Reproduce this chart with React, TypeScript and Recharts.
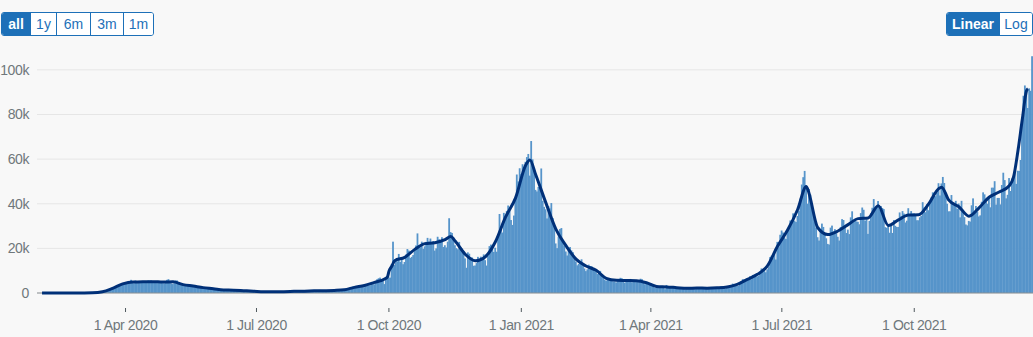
import React from 'react';
import { ComposedChart, Bar, Line, XAxis, YAxis, CartesianGrid, ReferenceLine } from 'recharts';

// Daily cases (thousands), by month, starting 31 Jan 2020
const jan2020 = [0];
const feb2020 = [0, 0, 0, 0, 0, 0, 0, 0, 0, 0, 0, 0, 0, 0, 0, 0, 0, 0, 0, 0, 0, 0, 0, 0, 0, 0, 0, 0, 0];
const mar2020 = [0, 0.01, 0.01, 0.03, 0.05, 0.05, 0.05, 0.07, 0.05, 0.07, 0.08, 0.13, 0.2, 0.3, 0.4, 0.5, 0.6, 0.8, 1.0, 1.2, 1.6, 1.6, 2.0, 2.4, 2.8, 3.2, 3.6, 3.8, 3.7, 3.9, 4.2];
const apr2020 = [4.6, 4.7, 5.0, 4.4, 5.9, 4.6, 4.3, 5.6, 4.9, 5.3, 5.3, 5.2, 4.6, 4.8, 4.9, 4.9, 5.6, 5.5, 5.6, 4.8, 4.6, 4.8, 4.7, 5.4, 5.0, 4.6, 4.4, 4.3, 4.6, 5.9];
const may2020 = [6.2, 4.8, 4.3, 4.0, 4.4, 5.6, 5.6, 4.6, 3.9, 3.9, 3.9, 3.4, 3.2, 3.4, 3.6, 3.45, 3.1, 3.5, 2.7, 2.5, 2.9, 3.0, 2.9, 2.5, 2.2, 2.0, 2.2, 2.1, 2.2, 2.4, 1.9];
const jun2020 = [1.6, 1.6, 1.9, 1.8, 1.65, 1.55, 1.3, 1.2, 1.4, 1.0, 1.3, 1.5, 1.4, 1.3, 1.1, 1.3, 1.1, 1.2, 1.35, 1.2, 1.2, 0.96, 0.87, 0.65, 1.1, 1.0, 0.9, 0.9, 0.8, 0.69];
const jul2020 = [0.6, 0.8, 0.6, 0.6, 0.5, 0.35, 0.6, 0.6, 0.6, 0.6, 0.8, 0.65, 0.5, 0.5, 0.5, 0.6, 0.7, 0.8, 0.6, 0.5, 0.4, 0.6, 0.7, 0.8, 0.7, 0.7, 0.7, 0.6, 0.8, 0.8, 0.9];
const aug2020 = [0.9, 0.7, 0.7, 0.7, 0.9, 1.0, 0.9, 0.8, 1.1, 0.9, 1.1, 1.0, 0.9, 1.4, 1.0, 1.0, 0.7, 1.2, 0.8, 1.2, 1.0, 1.3, 1.0, 0.9, 1.2, 1.2, 1.5, 1.3, 1.1, 1.7, 1.3];
const sep2020 = [1.3, 1.6, 1.7, 2.0, 1.8, 2.9, 2.9, 2.5, 2.7, 2.9, 3.5, 3.5, 3.3, 2.6, 3.1, 3.9, 3.4, 3.4, 4.4, 3.9, 3.9, 4.9, 6.2, 6.6, 6.9, 6.0, 5.7, 4.0, 7.1, 7.1];
const oct2020 = [6.9, 6.9, 12.9, 23.0, 12.6, 14.5, 14.2, 17.5, 13.9, 15.2, 12.9, 13.9, 17.2, 19.7, 19.0, 15.7, 16.2, 17.0, 18.8, 21.3, 26.7, 21.2, 20.5, 23.0, 19.8, 20.9, 22.9, 24.7, 23.1, 24.4, 21.9];
const nov2020 = [23.3, 19.0, 20.0, 25.2, 24.1, 23.3, 25.0, 20.6, 21.4, 20.4, 23.0, 33.5, 27.3, 26.9, 25.0, 21.4, 20.1, 19.6, 22.9, 20.3, 19.9, 18.7, 15.5, 11.3, 18.2, 17.6, 16.0, 15.9, 12.2, 12.3];
const dec2020 = [13.4, 16.2, 14.9, 16.3, 15.5, 17.3, 14.7, 12.3, 16.6, 21.0, 21.7, 21.5, 18.4, 20.3, 18.5, 25.2, 35.4, 28.5, 27.1, 35.9, 33.4, 36.8, 39.2, 36.8, 32.7, 30.5, 34.7, 41.4, 53.1, 50.0, 55.9];
const jan2021 = [53.3, 57.7, 55.0, 58.8, 60.9, 62.3, 52.6, 68.1, 59.9, 54.9, 46.2, 45.5, 47.5, 48.7, 55.8, 41.3, 38.6, 37.5, 33.4, 38.9, 37.9, 40.3, 33.6, 30.0, 22.2, 20.1, 25.3, 28.7, 29.1, 23.3, 21.1];
const feb2021 = [18.6, 16.8, 19.2, 20.6, 19.1, 18.3, 15.8, 14.1, 12.4, 13.0, 13.5, 15.1, 13.3, 11.0, 9.8, 10.6, 12.7, 12.1, 12.0, 10.4, 9.8, 10.6, 8.5, 9.9, 9.9, 8.5, 7.4, 6.0];
const mar2021 = [5.5, 6.4, 5.8, 6.6, 6.0, 5.2, 5.2, 4.7, 5.8, 6.3, 6.8, 6.6, 5.5, 4.6, 5.1, 5.3, 5.8, 6.3, 4.8, 5.6, 5.3, 5.3, 5.4, 5.6, 6.4, 6.2, 4.7, 3.9, 4.7, 4.0, 4.0];
const apr2021 = [4.5, 3.4, 3.4, 2.3, 2.8, 2.4, 3.0, 3.1, 3.0, 3.1, 1.7, 3.6, 2.5, 2.5, 2.7, 2.6, 2.3, 1.9, 2.5, 2.4, 2.4, 2.7, 2.5, 2.0, 1.7, 2.1, 2.0, 2.2, 2.1, 2.0];
const may2021 = [2.3, 1.7, 1.9, 2.5, 2.6, 2.5, 2.0, 2.0, 1.8, 2.4, 2.0, 2.3, 2.7, 2.2, 2.0, 1.9, 2.0, 2.4, 2.7, 2.9, 2.8, 2.2, 2.0, 2.4, 2.5, 3.2, 3.5, 4.2, 3.4, 3.2, 3.2];
const jun2021 = [3.2, 4.3, 5.3, 6.2, 5.8, 5.3, 5.7, 6.0, 7.5, 6.2, 8.1, 7.7, 7.5, 7.4, 7.7, 9.1, 11.0, 10.5, 10.3, 9.3, 10.6, 11.6, 16.1, 16.7, 15.8, 18.3, 15.0, 22.9, 20.5, 26.1];
const jul2021 = [28.0, 27.1, 24.9, 24.2, 27.3, 28.8, 32.5, 32.6, 35.7, 32.4, 31.8, 34.5, 36.7, 42.3, 48.6, 51.9, 54.7, 48.2, 40.0, 46.6, 44.1, 39.9, 36.4, 31.8, 29.2, 25.0, 23.5, 27.7, 31.1, 29.6, 26.1];
const aug2021 = [24.5, 22.0, 21.7, 29.3, 30.2, 27.7, 28.6, 26.8, 25.2, 23.5, 29.6, 33.1, 32.7, 29.5, 26.9, 28.4, 26.4, 33.9, 36.6, 32.1, 32.3, 32.1, 31.9, 30.8, 35.8, 38.3, 37.3, 32.4, 33.0, 26.5, 32.3];
const sep2021 = [35.7, 38.2, 42.1, 37.6, 38.2, 41.2, 37.5, 39.0, 38.1, 37.6, 29.5, 29.2, 30.8, 27.0, 30.6, 26.9, 32.7, 30.1, 29.6, 29.6, 36.1, 34.5, 36.7, 35.6, 31.6, 32.4, 38.0, 34.5, 36.7, 35.6];
const oct2021 = [35.7, 35.1, 32.6, 32.6, 33.9, 34.5, 40.7, 38.3, 36.2, 39.8, 37.1, 40.2, 42.8, 45.1, 44.9, 43.4, 45.1, 49.2, 43.7, 49.1, 52.0, 49.3, 45.0, 40.0, 36.6, 36.6, 43.9, 39.8, 39.1, 41.3, 37.7];
const nov2021 = [40.1, 33.9, 41.3, 37.3, 34.0, 30.7, 30.3, 32.3, 32.0, 39.3, 42.4, 36.5, 39.0, 36.5, 34.3, 34.8, 40.9, 45.1, 44.2, 40.9, 40.0, 42.5, 38.4, 47.2, 47.2, 50.1, 39.6, 42.6, 42.6, 39.7];
const dec2021 = [48.4, 53.9, 50.6, 42.4, 44.0, 51.5, 45.7, 51.3, 50.9, 54.1, 48.9, 54.8, 54.7, 59.6, 78.6, 88.4, 93.0, 90.4, 82.9, 91.7, 90.6, 106.1];

const dailyCasesK = [
  ...jan2020, ...feb2020, ...mar2020, ...apr2020, ...may2020, ...jun2020,
  ...jul2020, ...aug2020, ...sep2020, ...oct2020, ...nov2020, ...dec2020,
  ...jan2021, ...feb2021, ...mar2021, ...apr2021, ...may2021, ...jun2021,
  ...jul2021, ...aug2021, ...sep2021, ...oct2021, ...nov2021, ...dec2021,
];

// 7-day average line (thousands), read at sample dates
const avgDates = [
  '2020-02-03', '2020-02-10', '2020-02-17', '2020-02-24', '2020-03-02', '2020-03-09', '2020-03-16', '2020-03-23', '2020-03-30',
  '2020-04-06', '2020-04-13', '2020-04-20', '2020-04-27', '2020-05-04', '2020-05-11', '2020-05-18', '2020-05-25',
  '2020-06-01', '2020-06-08', '2020-06-15', '2020-06-22', '2020-06-29', '2020-07-06', '2020-07-13', '2020-07-20', '2020-07-27',
  '2020-08-03', '2020-08-10', '2020-08-17', '2020-08-24', '2020-08-31', '2020-09-07', '2020-09-14', '2020-09-21', '2020-09-28',
  '2020-09-30', '2020-10-01', '2020-10-03', '2020-10-05', '2020-10-12', '2020-10-19', '2020-10-26',
  '2020-11-02', '2020-11-09', '2020-11-13', '2020-11-16', '2020-11-23', '2020-11-30',
  '2020-12-07', '2020-12-14', '2020-12-21', '2020-12-28', '2021-01-04', '2021-01-07', '2021-01-11', '2021-01-18', '2021-01-25',
  '2021-02-01', '2021-02-08', '2021-02-15', '2021-02-22', '2021-03-01', '2021-03-08', '2021-03-15', '2021-03-22', '2021-03-29',
  '2021-04-05', '2021-04-12', '2021-04-19', '2021-04-26', '2021-05-03', '2021-05-10', '2021-05-17', '2021-05-24', '2021-05-31',
  '2021-06-07', '2021-06-14', '2021-06-21', '2021-06-28', '2021-07-05', '2021-07-12', '2021-07-18', '2021-07-19', '2021-07-26',
  '2021-08-02', '2021-08-09', '2021-08-16', '2021-08-23', '2021-08-30', '2021-09-06', '2021-09-13', '2021-09-20', '2021-09-27',
  '2021-10-04', '2021-10-11', '2021-10-18', '2021-10-20', '2021-10-25', '2021-11-01', '2021-11-08', '2021-11-15', '2021-11-22',
  '2021-11-29', '2021-12-06', '2021-12-09', '2021-12-12', '2021-12-15', '2021-12-18', '2021-12-19',
];
const avgValuesK = [
  0, 0, 0, 0, 0.02, 0.07, 0.54, 2.11, 4.07,
  4.96, 5.0, 5.09, 4.89, 4.99, 3.76, 3.11, 2.41,
  1.91, 1.34, 1.27, 1.05, 0.81, 0.55, 0.59, 0.61, 0.73,
  0.83, 0.96, 1.04, 1.16, 1.43, 2.53, 3.33, 4.76, 6.24,
  7.2, 9.7, 12.0, 14.5, 15.97, 19.55, 22.13,
  22.55, 23.87, 25.3, 23.3, 17.35, 14.41,
  16.24, 22.99, 33.96, 42.61, 57.23, 59.64, 52.96, 40.49, 28.6,
  21.24, 15.17, 12.09, 10.16, 6.6, 5.71, 5.6, 5.49, 4.57,
  2.91, 2.73, 2.4, 2.09, 2.21, 2.17, 2.3, 2.66, 3.83,
  6.1, 8.36, 12.16, 20.94, 28.2, 37.43, 47.7, 46.48, 29.24,
  26.19, 27.78, 30.63, 33.33, 33.63, 39.1, 30.23, 32.76, 34.9,
  35.01, 39.93, 46.77, 47.4, 41.59, 38.67, 34.43, 38.16, 42.91,
  45.27, 48.06, 52.0, 63.5, 77.5, 90.6, 91.5,
];

const tickDates = ['2020-04-01', '2020-07-01', '2020-10-01', '2021-01-01', '2021-04-01', '2021-07-01', '2021-10-01'];
const tickLabels = ['1 Apr 2020', '1 Jul 2020', '1 Oct 2020', '1 Jan 2021', '1 Apr 2021', '1 Jul 2021', '1 Oct 2021'];
const yTicks = [0, 20, 40, 60, 80, 100];
const yTickLabels = ['0', '20k', '40k', '60k', '80k', '100k'];

const rangeButtons = ['all', '1y', '6m', '3m', '1m'];
const scaleButtons = ['Linear', 'Log'];

const isoDate = (i: number) => new Date(Date.UTC(2020, 0, 31 + i)).toISOString().slice(0, 10);
const avgMap = new Map<string, number>(avgDates.map((d, i) => [d, avgValuesK[i]]));
const data = dailyCasesK.map((v, i) => {
  const date = isoDate(i);
  return { date, cases: v, avg: avgMap.has(date) ? avgMap.get(date) : null };
});

const FONT = '"Liberation Sans", Arial, sans-serif';
const BLUE = '#1d70b8';
const GREY = '#6f777b';
const BAR = '#5694ca';

const XTick = (props: any) => {
  const { x, y, payload } = props;
  const idx = tickDates.indexOf(payload.value);
  return (
    <g>
      <line x1={x} x2={x} y1={y + 15} y2={y + 19} stroke="#505a5f" strokeWidth={1} />
      <text x={x} y={y + 37} textAnchor="middle" fill={GREY} fontSize={14} fontFamily={FONT} letterSpacing={-0.4}>
        {idx >= 0 ? tickLabels[idx] : ''}
      </text>
    </g>
  );
};

// Bars widened slightly so adjacent daily bars overlap (no anti-alias seams)
const DailyBar = (props: any) => {
  const { x, y, width, height } = props;
  if (!height || height <= 0) return null;
  return <rect x={x - 0.4} y={y} width={width + 0.8} height={height} fill={BAR} />;
};

const btnBase: React.CSSProperties = {
  display: 'flex', alignItems: 'center', justifyContent: 'center', height: '100%',
  fontFamily: FONT, fontSize: 14, boxSizing: 'border-box',
};

function ButtonGroup({ labels, widths, left, active }: { labels: string[]; widths: number[]; left: number; active: number }) {
  return (
    <div style={{
      position: 'absolute', left, top: 12, height: 24, display: 'flex', border: `1px solid ${BLUE}`,
      borderRadius: 3, overflow: 'hidden', boxSizing: 'border-box', background: '#fff',
    }}>
      {labels.map((l, i) => (
        <div key={l} style={{
          ...btnBase, width: widths[i],
          background: i === active ? BLUE : '#fff', color: i === active ? '#fff' : BLUE,
          fontWeight: i === active ? 700 : 400,
          borderLeft: i > 0 ? `1px solid ${BLUE}` : 'none',
        }}>{l}</div>
      ))}
    </div>
  );
}

export default function App() {
  return (
    <div style={{ position: 'absolute', left: 0, top: 0, width: 1033, height: 337, background: '#f8f8f8', overflow: 'hidden' }}>
      <ButtonGroup labels={rangeButtons} widths={[28, 26, 34, 33, 30]} left={1} active={0} />
      <ButtonGroup labels={scaleButtons} widths={[52, 33]} left={946} active={0} />
      <ComposedChart
        width={1033}
        height={337}
        data={data}
        margin={{ top: 56, right: 0, bottom: 0, left: 0 }}
        barCategoryGap={0}
        barGap={0}
      >
        <CartesianGrid vertical={false} stroke="#e6e6e6" horizontalValues={yTicks} />
        <ReferenceLine y={0} stroke="#8b9195" strokeWidth={1} />
        <XAxis
          dataKey="date"
          ticks={tickDates}
          interval={0}
          height={44}
          tickLine={false}
          axisLine={false}
          tickSize={0}
          tickMargin={0}
          tick={<XTick />}
        />
        <YAxis
          width={37}
          domain={[0, 106.2]}
          ticks={yTicks}
          interval={0}
          tickLine={false}
          axisLine={false}
          tickFormatter={(v: number) => yTickLabels[yTicks.indexOf(v)] ?? ''}
          tick={{ fontSize: 14, fill: GREY, fontFamily: FONT, letterSpacing: -0.4 }}
        />
        <Bar dataKey="cases" fill={BAR} shape={<DailyBar />} isAnimationActive={false} />
        <Line
          dataKey="avg"
          type="monotone"
          stroke="#003078"
          strokeWidth={3}
          dot={false}
          activeDot={false}
          connectNulls
          isAnimationActive={false}
        />
      </ComposedChart>
    </div>
  );
}
